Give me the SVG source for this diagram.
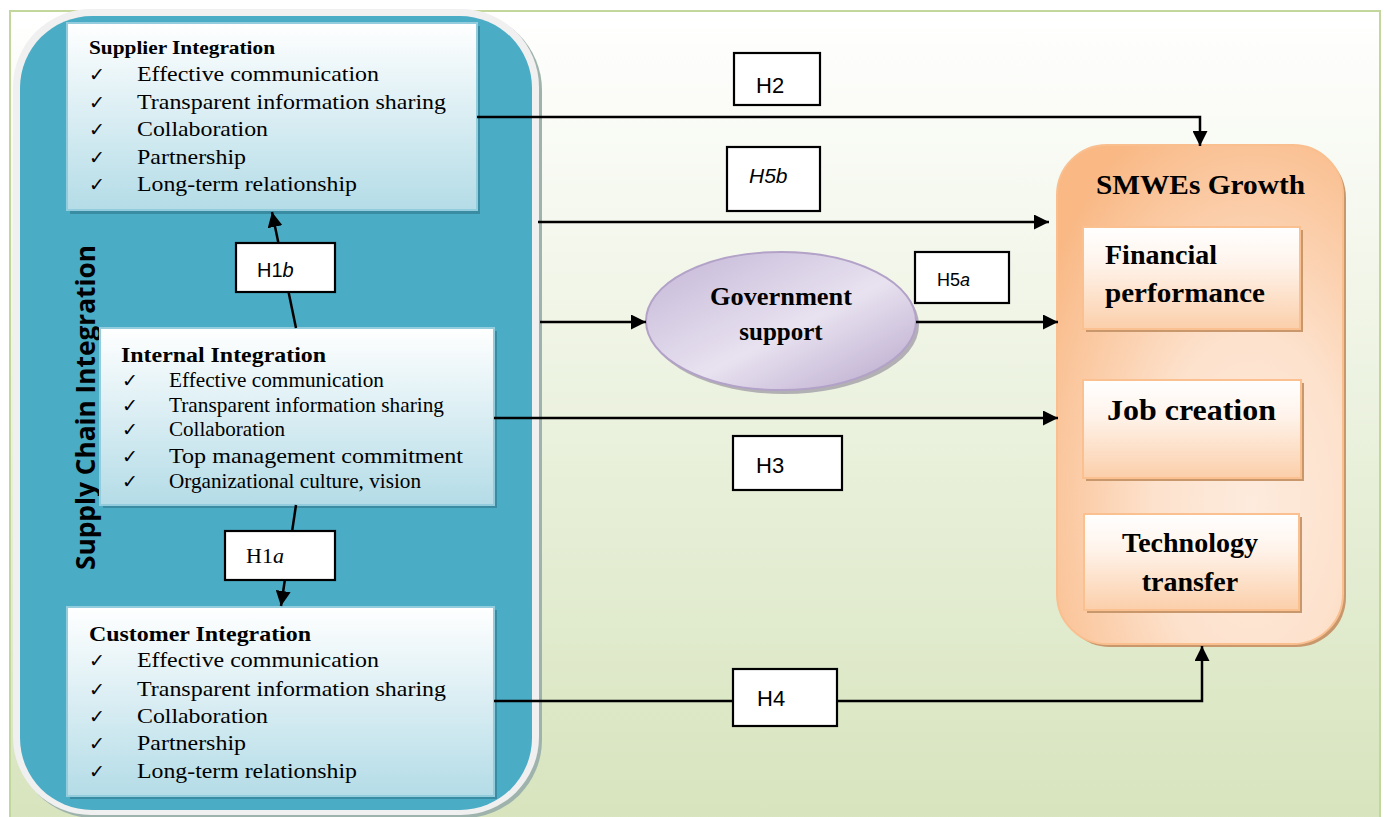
<svg xmlns="http://www.w3.org/2000/svg" width="1384" height="817" viewBox="0 0 1384 817">
  <style>
    .serif { font-family: "Liberation Serif", "Times New Roman", serif; fill: #000; }
    .sans { font-family: "Liberation Sans", Arial, sans-serif; fill: #000; }
    .bold { font-weight: bold; }
    .tick { font-family: "DejaVu Sans", sans-serif; font-size: 19px; fill: #000; }
    .item { font-family: "Liberation Serif", "Times New Roman", serif; font-size: 21px; fill: #000; }
    .hbox { fill: #ffffff; stroke: #000; stroke-width: 2.2; }
    .conn { fill: none; stroke: #000; stroke-width: 2.5; }
    .blueBox { fill: url(#boxBlue); stroke: #93cddd; stroke-width: 2; }
    .blueShadow { fill: #3a8ca2; }
    .orangeBox { fill: url(#boxOrange); stroke: #fac090; stroke-width: 2; }
    .orangeShadow { fill: #c8976c; }
  </style>
  <defs>
    <linearGradient id="bgGrad" x1="0" y1="0" x2="0" y2="1">
      <stop offset="0" stop-color="#ffffff"/>
      <stop offset="1" stop-color="#d7e4bd"/>
    </linearGradient>
    <linearGradient id="boxBlue" x1="0" y1="0" x2="0" y2="1">
      <stop offset="0" stop-color="#ffffff"/>
      <stop offset="1" stop-color="#b4dce7"/>
    </linearGradient>
    <linearGradient id="boxOrange" x1="0" y1="0" x2="0" y2="1">
      <stop offset="0" stop-color="#ffffff"/>
      <stop offset="0.35" stop-color="#fff4ec"/>
      <stop offset="1" stop-color="#fbcfaa"/>
    </linearGradient>
    <radialGradient id="growthGrad" cx="0.68" cy="0.72" r="0.85">
      <stop offset="0" stop-color="#fdebdd"/>
      <stop offset="0.4" stop-color="#fde2cd"/>
      <stop offset="1" stop-color="#f9b884"/>
    </radialGradient>
    <linearGradient id="ellGrad" x1="0" y1="0" x2="1" y2="1">
      <stop offset="0" stop-color="#c3b5d6"/>
      <stop offset="0.55" stop-color="#e8e2f0"/>
      <stop offset="1" stop-color="#b7a6cb"/>
    </linearGradient>
    <marker id="arrow" viewBox="0 0 10 10" refX="10" refY="5" markerWidth="6" markerHeight="6" orient="auto" markerUnits="strokeWidth">
      <path d="M0,0 L10,5 L0,10 z" fill="#000"/>
    </marker>
  </defs>

  <!-- page frame -->
  <rect x="10" y="11" width="1370" height="812" fill="url(#bgGrad)" stroke="#c3d69b" stroke-width="2"/>

  <!-- supply chain integration container -->
  <g id="supply-chain-integration">
    <rect x="16" y="12" width="526" height="806" rx="78" fill="#9fb3ad"/>
    <rect x="13" y="9" width="526" height="806" rx="78" fill="#f0f0f0"/>
    <rect x="20" y="16" width="512" height="794" rx="72" fill="#4bacc6"/>
    <text class="bold" font-family="'Open Sans', 'Liberation Sans', sans-serif" font-size="27" fill="#000" transform="translate(95,570) rotate(-90)" textLength="325" lengthAdjust="spacingAndGlyphs">Supply Chain Integration</text>
  </g>

  <!-- supplier integration -->
  <g id="supplier-integration">
    <rect class="blueShadow" x="70" y="26" width="410" height="188"/>
    <rect class="blueBox" x="67" y="23" width="410" height="187"/>
    <text class="serif bold" x="89" y="54" font-size="19" textLength="186" lengthAdjust="spacingAndGlyphs">Supplier Integration</text>
    <text class="tick" x="89" y="81">✓</text>
    <text class="item" x="137" y="81" textLength="242" lengthAdjust="spacingAndGlyphs">Effective communication</text>
    <text class="tick" x="89" y="109">✓</text>
    <text class="item" x="137" y="109" textLength="309" lengthAdjust="spacingAndGlyphs">Transparent information sharing</text>
    <text class="tick" x="89" y="136">✓</text>
    <text class="item" x="137" y="136" textLength="131" lengthAdjust="spacingAndGlyphs">Collaboration</text>
    <text class="tick" x="89" y="164">✓</text>
    <text class="item" x="137" y="164" textLength="109" lengthAdjust="spacingAndGlyphs">Partnership</text>
    <text class="tick" x="89" y="191">✓</text>
    <text class="item" x="137" y="191" textLength="220" lengthAdjust="spacingAndGlyphs">Long-term relationship</text>
  </g>

  <!-- internal integration -->
  <g id="internal-integration">
    <rect class="blueShadow" x="103" y="331" width="394" height="177"/>
    <rect class="blueBox" x="100" y="328" width="394" height="177"/>
    <text class="serif bold" x="121" y="362" font-size="22" textLength="205" lengthAdjust="spacingAndGlyphs">Internal Integration</text>
    <text class="tick" x="122" y="387">✓</text>
    <text class="item" x="169" y="387" font-size="20" textLength="215" lengthAdjust="spacingAndGlyphs">Effective communication</text>
    <text class="tick" x="122" y="412">✓</text>
    <text class="item" x="169" y="412" textLength="275" lengthAdjust="spacingAndGlyphs">Transparent information sharing</text>
    <text class="tick" x="122" y="436">✓</text>
    <text class="item" x="169" y="436" textLength="116" lengthAdjust="spacingAndGlyphs">Collaboration</text>
    <text class="tick" x="122" y="463">✓</text>
    <text class="item" x="169" y="463" font-size="23" textLength="294" lengthAdjust="spacingAndGlyphs">Top management commitment</text>
    <text class="tick" x="122" y="488">✓</text>
    <text class="item" x="169" y="488" textLength="252" lengthAdjust="spacingAndGlyphs">Organizational culture, vision</text>
  </g>

  <!-- customer integration -->
  <g id="customer-integration">
    <rect class="blueShadow" x="70" y="610" width="427" height="189"/>
    <rect class="blueBox" x="67" y="607" width="427" height="189"/>
    <text class="serif bold" x="89" y="641" font-size="22" textLength="222" lengthAdjust="spacingAndGlyphs">Customer Integration</text>
    <text class="tick" x="89" y="667">✓</text>
    <text class="item" x="137" y="667" textLength="242" lengthAdjust="spacingAndGlyphs">Effective communication</text>
    <text class="tick" x="89" y="696">✓</text>
    <text class="item" x="137" y="696" textLength="309" lengthAdjust="spacingAndGlyphs">Transparent information sharing</text>
    <text class="tick" x="89" y="723">✓</text>
    <text class="item" x="137" y="723" textLength="131" lengthAdjust="spacingAndGlyphs">Collaboration</text>
    <text class="tick" x="89" y="750">✓</text>
    <text class="item" x="137" y="750" textLength="109" lengthAdjust="spacingAndGlyphs">Partnership</text>
    <text class="tick" x="89" y="778">✓</text>
    <text class="item" x="137" y="778" textLength="220" lengthAdjust="spacingAndGlyphs">Long-term relationship</text>
  </g>

  <!-- government support -->
  <g id="government-support">
    <ellipse cx="784" cy="325" rx="135" ry="69" fill="#a39fa8" opacity="0.8"/>
    <ellipse cx="781" cy="321" rx="135" ry="69" fill="url(#ellGrad)" stroke="#b3a2c8" stroke-width="2"/>
    <text class="serif bold" x="781" y="305" font-size="25" text-anchor="middle" textLength="142" lengthAdjust="spacingAndGlyphs">Government</text>
    <text class="serif bold" x="781" y="340" font-size="25" text-anchor="middle">support</text>
  </g>

  <!-- SMWEs growth -->
  <g id="smwes-growth">
    <rect x="1060" y="148" width="286" height="499" rx="50" fill="#c8976c"/>
    <rect x="1057" y="145" width="286" height="499" rx="50" fill="url(#growthGrad)" stroke="#fabf8f" stroke-width="2"/>
    <text class="serif bold" x="1096" y="194" font-size="28" textLength="209" lengthAdjust="spacingAndGlyphs">SMWEs Growth</text>
  </g>

  <g id="financial-performance">
    <rect class="orangeShadow" x="1086" y="230" width="217" height="102"/>
    <rect class="orangeBox" x="1083" y="227" width="217" height="102"/>
    <text class="serif bold" x="1105" y="264" font-size="28">Financial</text>
    <text class="serif bold" x="1105" y="302" font-size="28" textLength="160" lengthAdjust="spacingAndGlyphs">performance</text>
  </g>

  <g id="job-creation">
    <rect class="orangeShadow" x="1086" y="383" width="218" height="98"/>
    <rect class="orangeBox" x="1083" y="380" width="218" height="98"/>
    <text class="serif bold" x="1107" y="420" font-size="30" textLength="169" lengthAdjust="spacingAndGlyphs">Job creation</text>
  </g>

  <g id="technology-transfer">
    <rect class="orangeShadow" x="1087" y="517" width="215" height="96"/>
    <rect class="orangeBox" x="1084" y="514" width="215" height="96"/>
    <text class="serif bold" x="1190" y="552" font-size="28" text-anchor="middle">Technology</text>
    <text class="serif bold" x="1190" y="591" font-size="28" text-anchor="middle">transfer</text>
  </g>

  <!-- connectors -->
  <g id="connectors">
    <path class="conn" d="M296,328 L272,212" marker-end="url(#arrow)"/>
    <path class="conn" d="M296,505 L281,606" marker-end="url(#arrow)"/>
    <path class="conn" d="M477,117 H1200 V146" marker-end="url(#arrow)"/>
    <path class="conn" d="M538,222 H1049" marker-end="url(#arrow)"/>
    <path class="conn" d="M540,322 H646" marker-end="url(#arrow)"/>
    <path class="conn" d="M916,322 H1058" marker-end="url(#arrow)"/>
    <path class="conn" d="M494,418 H1058" marker-end="url(#arrow)"/>
    <path class="conn" d="M494,701 H1202 V646" marker-end="url(#arrow)"/>
  </g>

  <!-- hypothesis labels -->
  <g id="label-h1b">
    <rect class="hbox" x="236" y="243" width="99" height="49"/>
    <text class="sans" x="257" y="277" font-size="20">H1<tspan font-style="italic">b</tspan></text>
  </g>
  <g id="label-h1a">
    <rect class="hbox" x="225" y="531" width="110" height="49"/>
    <text class="serif" x="246" y="563" font-size="22">H1<tspan font-style="italic">a</tspan></text>
  </g>
  <g id="label-h2">
    <rect class="hbox" x="734" y="53" width="86" height="52"/>
    <text class="sans" x="756" y="93" font-size="22">H2</text>
  </g>
  <g id="label-h5b">
    <rect class="hbox" x="727" y="147" width="93" height="64"/>
    <text class="sans" x="749" y="183" font-size="21" font-style="italic">H5b</text>
  </g>
  <g id="label-h5a">
    <rect class="hbox" x="915" y="252" width="94" height="51"/>
    <text class="sans" x="937" y="286" font-size="18">H5<tspan font-style="italic">a</tspan></text>
  </g>
  <g id="label-h3">
    <rect class="hbox" x="733" y="436" width="109" height="54"/>
    <text class="sans" x="756" y="473" font-size="22">H3</text>
  </g>
  <g id="label-h4">
    <rect class="hbox" x="733" y="669" width="104" height="57"/>
    <text class="sans" x="757" y="706" font-size="22">H4</text>
  </g>
</svg>
